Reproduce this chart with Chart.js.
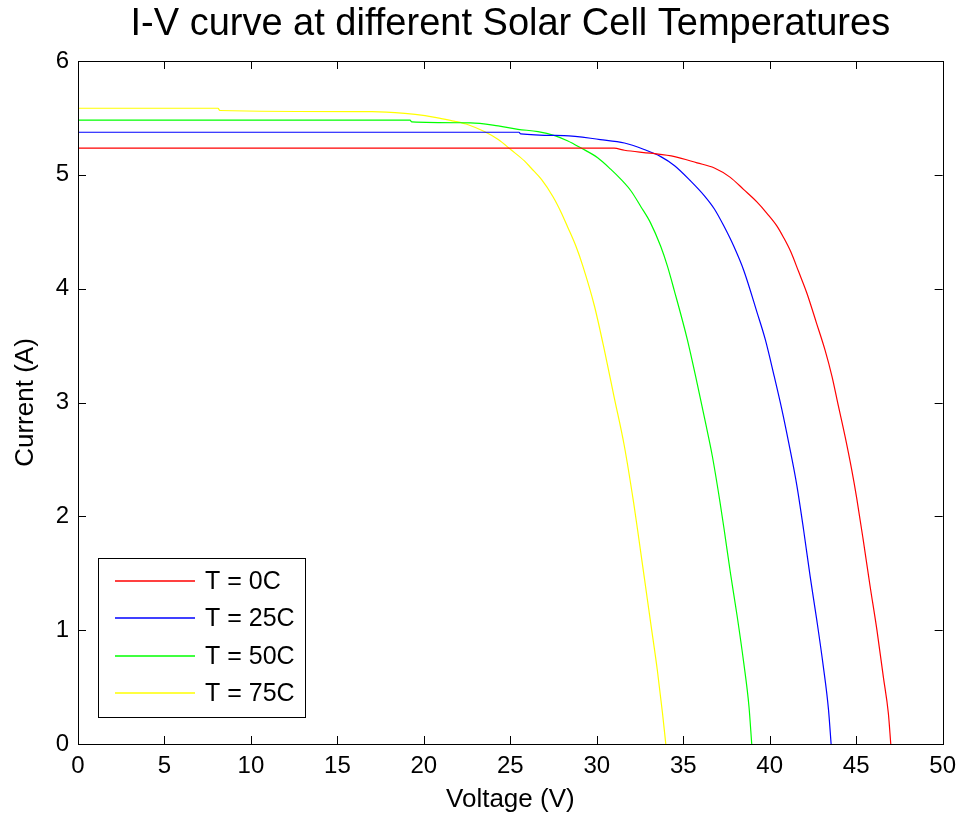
<!DOCTYPE html>
<html>
<head>
<meta charset="utf-8">
<script src="https://cdn.jsdelivr.net/npm/chart.js@4"></script>
<style>
  html, body { margin: 0; padding: 0; background: #ffffff; }
  #wrap { width: 964px; height: 815px; }
</style>
</head>
<body>
<div id="wrap"><canvas id="c" width="964" height="815"></canvas></div>
<script>
// ---- Data ----
const seriesLabels = ["T = 0C", "T = 25C", "T = 50C", "T = 75C"];
const seriesColors = ["#ff0000", "#0000ff", "#00ff00", "#ffff00"];

// Voltage (V), Current (A) pairs
const voltageT0 = [0, 31.0, 31.6, 33.1, 34.5, 35.8, 36.8, 37.7, 38.5, 39.27, 39.85, 40.42, 40.8, 41.2, 41.67, 42.15, 42.7, 43.2, 43.6, 43.97, 44.36, 44.74, 45.03, 45.4, 45.8, 46.2, 46.57, 46.86, 47.0];
const currentT0 = [5.234, 5.234, 5.216, 5.19, 5.16, 5.105, 5.06, 4.98, 4.87, 4.76, 4.66, 4.55, 4.45, 4.33, 4.15, 3.96, 3.70, 3.46, 3.23, 2.97, 2.70, 2.41, 2.16, 1.80, 1.39, 1.0, 0.59, 0.27, 0];

const voltageT25 = [0, 25.5, 25.6, 28.1, 30.2, 31.6, 32.7, 33.7, 34.5, 35.4, 36.2, 36.8, 37.35, 37.93, 38.5, 39.27, 39.75, 40.23, 40.7, 41.1, 41.57, 41.96, 42.34, 42.72, 43.1, 43.4, 43.55];
const currentT25 = [5.374, 5.374, 5.36, 5.345, 5.31, 5.28, 5.225, 5.16, 5.08, 4.95, 4.82, 4.70, 4.55, 4.37, 4.16, 3.79, 3.55, 3.25, 2.94, 2.645, 2.27, 1.88, 1.47, 1.09, 0.68, 0.30, 0];

const voltageT50 = [0, 19.2, 19.3, 22.7, 24.3, 25.44, 26.6, 27.56, 28.3, 29.1, 30.05, 30.8, 31.4, 31.97, 32.55, 33.1, 33.7, 34.08, 34.47, 35.24, 35.8, 36.29, 36.68, 37.12, 37.35, 37.73, 38.12, 38.5, 38.8, 38.96];
const currentT50 = [5.48, 5.48, 5.465, 5.457, 5.43, 5.40, 5.38, 5.345, 5.30, 5.235, 5.15, 5.05, 4.96, 4.86, 4.72, 4.58, 4.37, 4.20, 3.99, 3.55, 3.17, 2.82, 2.53, 2.13, 1.90, 1.50, 1.12, 0.71, 0.33, 0];

const voltageT75 = [0, 8.1, 8.2, 17.0, 18.9, 20.07, 20.8, 21.8, 22.56, 23.5, 24.3, 25.04, 25.83, 26.2, 26.8, 27.46, 27.94, 28.32, 28.8, 29.19, 29.86, 30.44, 31.0, 31.59, 32.13, 32.36, 32.74, 33.12, 33.5, 33.8, 33.99];
const currentT75 = [5.585, 5.585, 5.565, 5.555, 5.54, 5.52, 5.50, 5.47, 5.44, 5.38, 5.31, 5.22, 5.12, 5.06, 4.96, 4.81, 4.67, 4.54, 4.37, 4.20, 3.85, 3.46, 3.05, 2.62, 2.12, 1.88, 1.47, 1.06, 0.65, 0.27, 0];

const xTickValues = [0, 5, 10, 15, 20, 25, 30, 35, 40, 45, 50];
const yTickValues = [0, 1, 2, 3, 4, 5, 6];

const titleText = "I-V curve at different Solar Cell Temperatures";
const xAxisTitle = "Voltage (V)";
const yAxisTitle = "Current (A)";

// ---- Build datasets ----
function pairs(xs, ys) { return xs.map((x, i) => ({ x: x, y: ys[i] })); }
const allV = [voltageT0, voltageT25, voltageT50, voltageT75];
const allI = [currentT0, currentT25, currentT50, currentT75];

const FONT = "'Liberation Sans', Arial, Helvetica, sans-serif";

const datasets = seriesLabels.map((lab, k) => ({
  label: lab,
  data: pairs(allV[k], allI[k]),
  borderColor: seriesColors[k],
  backgroundColor: seriesColors[k],
  borderWidth: 1.2,
  pointRadius: 0,
  showLine: true,
  cubicInterpolationMode: 'monotone',
  fill: false
}));

// Frame + inward ticks (MATLAB style)
const framePlugin = {
  id: 'frame',
  afterDatasetsDraw(chart) {
    const { ctx, chartArea: a, scales } = chart;
    ctx.save();
    ctx.strokeStyle = '#000000';
    ctx.lineWidth = 1;
    ctx.strokeRect(Math.round(a.left) + 0.5, Math.round(a.top) + 0.5, Math.round(a.right - a.left), Math.round(a.bottom - a.top));
    const L = 8;
    ctx.beginPath();
    xTickValues.forEach(v => {
      const px = Math.round(scales.x.getPixelForValue(v)) + 0.5;
      ctx.moveTo(px, a.bottom); ctx.lineTo(px, a.bottom - L);
      ctx.moveTo(px, a.top); ctx.lineTo(px, a.top + L);
    });
    yTickValues.forEach(v => {
      const py = Math.round(scales.y.getPixelForValue(v)) + 0.5;
      ctx.moveTo(a.left, py); ctx.lineTo(a.left + L, py);
      ctx.moveTo(a.right, py); ctx.lineTo(a.right - L, py);
    });
    ctx.stroke();
    ctx.restore();
  }
};

// Boxed legend in lower-left of plot
const legendPlugin = {
  id: 'boxLegend',
  afterDraw(chart) {
    const { ctx, chartArea: a } = chart;
    const boxL = Math.round(a.left + 20), boxT = Math.round(a.top + 497), boxW = 207, boxH = 159;
    ctx.save();
    ctx.fillStyle = '#ffffff';
    ctx.fillRect(boxL, boxT, boxW, boxH);
    ctx.strokeStyle = '#000000';
    ctx.lineWidth = 1;
    ctx.strokeRect(boxL + 0.5, boxT + 0.5, boxW, boxH);
    ctx.font = "25px " + FONT;
    ctx.textBaseline = 'middle';
    ctx.textAlign = 'left';
    chart.data.datasets.forEach((ds, i) => {
      const y = Math.round(boxT + 23 + i * 37.4);
      ctx.beginPath();
      ctx.strokeStyle = ds.borderColor;
      ctx.lineWidth = 1.5;
      ctx.moveTo(boxL + 17, y);
      ctx.lineTo(boxL + 97, y);
      ctx.stroke();
      ctx.fillStyle = '#000000';
      ctx.fillText(ds.label, boxL + 107, y + 1);
    });
    ctx.restore();
  }
};

new Chart(document.getElementById('c'), {
  type: 'scatter',
  data: { datasets: datasets },
  plugins: [framePlugin, legendPlugin],
  options: {
    responsive: false,
    animation: false,
    layout: { padding: { left: 0, right: 18, top: 0, bottom: 0 } },
    plugins: {
      legend: { display: false },
      tooltip: { enabled: false },
      title: {
        display: true,
        text: titleText,
        fullSize: false,
        color: '#000000',
        font: { family: FONT, size: 38, weight: 'normal', lineHeight: 1.2 },
        padding: { top: 2, bottom: 13.4 }
      }
    },
    scales: {
      x: {
        type: 'linear',
        min: 0, max: 50,
        afterFit(scale) { scale.height = 71; },
        afterBuildTicks(scale) { scale.ticks = xTickValues.map(v => ({ value: v })); },
        grid: { display: false, drawTicks: false },
        border: { display: true, color: '#000000', width: 1 },
        ticks: { color: '#000000', padding: 8, maxRotation: 0, autoSkip: false, font: { family: FONT, size: 24 } },
        title: { display: true, text: xAxisTitle, color: '#000000', font: { family: FONT, size: 26 }, padding: { top: 0, bottom: 0 } }
      },
      y: {
        type: 'linear',
        min: 0, max: 6,
        afterFit(scale) { scale.width = 78; },
        afterBuildTicks(scale) { scale.ticks = yTickValues.map(v => ({ value: v })); },
        grid: { display: false, drawTicks: false },
        border: { display: true, color: '#000000', width: 1 },
        ticks: { color: '#000000', padding: 9, autoSkip: false, font: { family: FONT, size: 24 } },
        title: { display: true, text: yAxisTitle, color: '#000000', font: { family: FONT, size: 26 }, padding: { top: 10, bottom: 0 } }
      }
    }
  }
});
</script>
</body>
</html>
